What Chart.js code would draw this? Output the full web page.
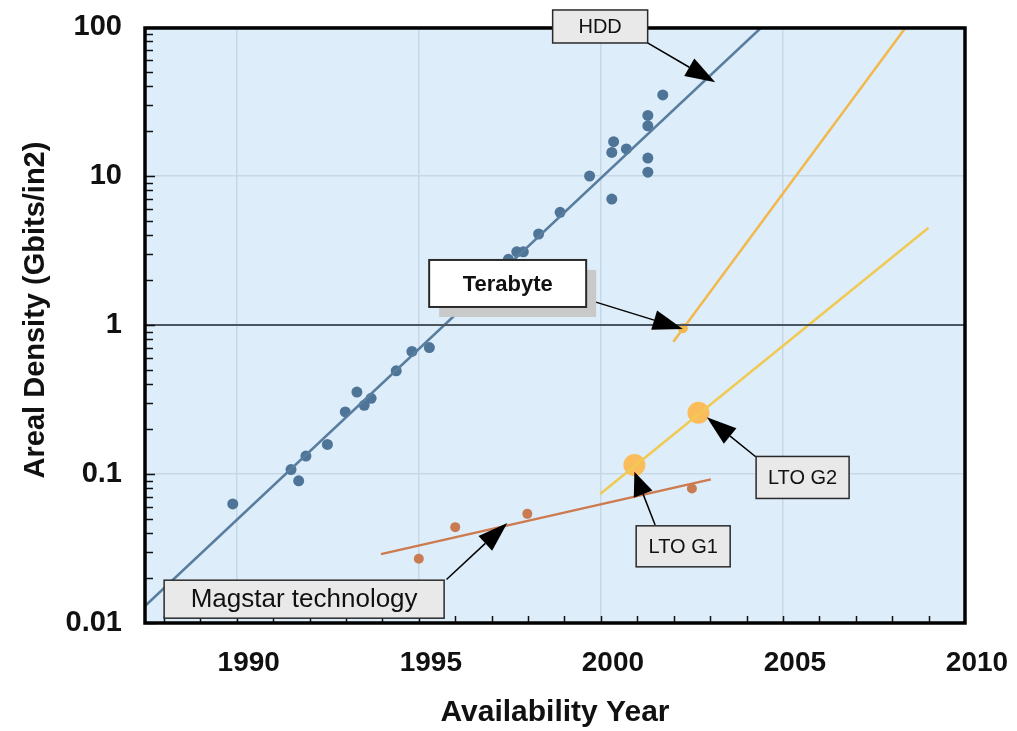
<!DOCTYPE html>
<html>
<head>
<meta charset="utf-8">
<script src="https://cdn.jsdelivr.net/npm/chart.js@4.4.1/dist/chart.umd.min.js"></script>
<style>
html,body{margin:0;padding:0;background:#fff;}
canvas{display:block;}
</style>
</head>
<body>
<canvas id="densityChart" width="1017" height="731"></canvas>
<script>
// axis ranges and tick labels
const xMin = 1987.48, xMax = 2010;
const xTicks = [1990, 1995, 2000, 2005, 2010];
const yTicks = [0.01, 0.1, 1, 10, 100];
const yTickLabels = ['0.01', '0.1', '1', '10', '100'];
const yTitle = 'Areal Density (Gbits/in2)';

// HDD products
const hddYears   = [1989.89,1991.49,1991.70,1991.90,1992.49,1992.98,1993.30,1993.50,1993.69,1994.38,1994.81,1995.29,1997.46,1997.69,1997.87,1998.29,1998.88,1999.69,2000.30,2000.30,2000.35,2000.70,2001.29,2001.29,2001.29,2001.29,2001.70];
const hddDensity = [0.063,0.107,0.090,0.132,0.158,0.261,0.355,0.289,0.322,0.493,0.665,0.705,2.76,3.1,3.1,4.08,5.7,10.0,7.0,14.4,17.0,15.2,13.2,10.6,21.7,25.5,35.0];
const hddTrendYears   = [1987.48, 2004.42];
const hddTrendDensity = [0.013, 100];

// Magstar tape
const magstarYears   = [1995.0, 1996.0, 1997.98, 2002.5];
const magstarDensity = [0.027, 0.044, 0.054, 0.080];
const magstarTrendYears   = [1993.96, 2003.02];
const magstarTrendDensity = [0.029, 0.092];

// LTO roadmap
const ltoYears   = [2000.92, 2002.68];
const ltoDensity = [0.115, 0.258];
const ltoTrendYears   = [1999.98, 2009.0];
const ltoTrendDensity = [0.0735, 4.5];

// terabyte tape line
const tbTrendYears   = [2001.99, 2008.38];
const tbTrendDensity = [0.773, 100];
const tbPointYears   = [2002.25];
const tbPointDensity = [0.95];
const terabyteLevel = 1;

function pts(xs, ys){ return xs.map((x,i)=>({x:x, y:ys[i]})); }

const notes = [
  {text:'HDD', font:'20px "Liberation Sans", Arial', cx:1999.98, cy:100.8, w:95, h:33, fill:'#e9e9e9', tail:[2001.27,78.5], tip:[2003.14,42.5]},
  {text:'Terabyte', font:'bold 22px "Liberation Sans", Arial', cx:1997.44, cy:1.90, w:157, h:47, fill:'#ffffff', shadow:true, tail:[1999.84,1.43], tip:[2002.25,0.94]},
  {text:'Magstar technology', font:'26px "Liberation Sans", Arial', cx:1991.85, cy:0.01445, w:280, h:38, fill:'#e9e9e9', tail:[1995.76,0.0196], tip:[1997.43,0.0469]},
  {text:'LTO G1', font:'20px "Liberation Sans", Arial', cx:2002.26, cy:0.0327, w:94, h:41, fill:'#e9e9e9', tail:[2001.49,0.0455], tip:[2000.92,0.1035], head:24},
  {text:'LTO G2', font:'20px "Liberation Sans", Arial', cx:2005.54, cy:0.0948, w:93, h:42, fill:'#e9e9e9', tail:[2004.26,0.130], tip:[2002.91,0.2405]}
];

const bgPlugin = {
  id:'bg',
  beforeDraw(chart){
    const {ctx, chartArea:a} = chart;
    ctx.save();
    ctx.fillStyle = '#deedfa';
    ctx.fillRect(a.left, a.top, a.right-a.left, a.bottom-a.top);
    ctx.restore();
  }
};

const framePlugin = {
  id:'frame',
  afterDatasetsDraw(chart){
    const {ctx, chartArea:a, scales} = chart;
    const xs = scales.x, ys = scales.y;
    ctx.save();
    ctx.strokeStyle = '#111';
    ctx.lineWidth = 1.5;
    ctx.beginPath();
    // y ticks inside the frame
    for(let d=0.01; d<100; d*=10){
      for(let k=1;k<10;k++){
        const py = Math.round(ys.getPixelForValue(k*d))+0.5;
        const len = k===1 ? 10 : 8;
        ctx.moveTo(a.left, py); ctx.lineTo(a.left+len, py);
      }
    }
    // x ticks every year
    for(let yr=1988; yr<2010; yr++){
      const px = Math.round(xs.getPixelForValue(yr))+0.5;
      ctx.moveTo(px, a.bottom); ctx.lineTo(px, a.bottom-7);
    }
    ctx.stroke();
    ctx.lineWidth = 3.5;
    ctx.strokeStyle = '#000';
    ctx.strokeRect(a.left, a.top+1, a.right-a.left, a.bottom-a.top-1);
    ctx.restore();
  },
  afterDraw(chart){
    const {ctx, scales, chartArea:a} = chart;
    const xs = scales.x, ys = scales.y;
    ctx.save();
    // y axis title
    ctx.save();
    ctx.translate(36, (a.top+a.bottom)/2 - 15);
    ctx.rotate(-Math.PI/2);
    ctx.font = 'bold 29px "Liberation Sans", Arial';
    ctx.fillStyle = '#111';
    ctx.textAlign = 'center'; ctx.textBaseline = 'middle';
    ctx.fillText(yTitle, 0, 0);
    ctx.restore();
    notes.forEach(n=>{
      const tx = xs.getPixelForValue(n.tip[0]), ty = ys.getPixelForValue(n.tip[1]);
      const sx = xs.getPixelForValue(n.tail[0]), sy = ys.getPixelForValue(n.tail[1]);
      const ang = Math.atan2(ty-sy, tx-sx);
      const L = n.head || 30, W = 10;
      const bx = tx - L*Math.cos(ang), by = ty - L*Math.sin(ang);
      ctx.strokeStyle = '#000'; ctx.lineWidth = 1.5;
      ctx.beginPath(); ctx.moveTo(sx, sy); ctx.lineTo(bx, by); ctx.stroke();
      ctx.fillStyle = '#000';
      ctx.beginPath();
      ctx.moveTo(tx, ty);
      ctx.lineTo(bx + W*Math.sin(ang), by - W*Math.cos(ang));
      ctx.lineTo(bx - W*Math.sin(ang), by + W*Math.cos(ang));
      ctx.closePath(); ctx.fill();
    });
    notes.forEach(n=>{
      const cx = xs.getPixelForValue(n.cx), cy = ys.getPixelForValue(n.cy);
      const x0 = cx - n.w/2, y0 = cy - n.h/2;
      if(n.shadow){
        ctx.fillStyle = '#c9c9c9';
        ctx.fillRect(x0+10, y0+10, n.w, n.h);
      }
      ctx.fillStyle = n.fill;
      ctx.fillRect(x0, y0, n.w, n.h);
      ctx.strokeStyle = '#2a2a2a'; ctx.lineWidth = n.shadow ? 2 : 1.5;
      ctx.strokeRect(x0, y0, n.w, n.h);
      ctx.fillStyle = '#111';
      ctx.font = n.font;
      ctx.textAlign = 'center'; ctx.textBaseline = 'middle';
      ctx.fillText(n.text, cx, cy+1);
    });
    ctx.restore();
  }
};

const ctx = document.getElementById('densityChart').getContext('2d');
new Chart(ctx, {
  type:'scatter',
  data:{datasets:[
    {label:'Terabyte', data:pts([xMin,xMax],[terabyteLevel,terabyteLevel]), showLine:true, borderColor:'#4b5660', borderWidth:2, pointRadius:0},
    {label:'HDD trend', data:pts(hddTrendYears,hddTrendDensity), showLine:true, borderColor:'#587d9e', borderWidth:2.5, pointRadius:0},
    {label:'HDD', data:pts(hddYears,hddDensity), backgroundColor:'#4e7597', borderWidth:0, pointRadius:5.5},
    {label:'Magstar trend', data:pts(magstarTrendYears,magstarTrendDensity), showLine:true, borderColor:'#cc7a4e', borderWidth:2.5, pointRadius:0},
    {label:'Magstar', data:pts(magstarYears,magstarDensity), backgroundColor:'#c97c52', borderWidth:0, pointRadius:5},
    {label:'LTO trend', data:pts(ltoTrendYears,ltoTrendDensity), showLine:true, borderColor:'#f0ca52', borderWidth:2.5, pointRadius:0},
    {label:'LTO', data:pts(ltoYears,ltoDensity), backgroundColor:'#fbbd5c', borderWidth:0, pointRadius:11},
    {label:'Terabyte tape', data:pts(tbTrendYears,tbTrendDensity), showLine:true, borderColor:'#f2b84c', borderWidth:2.5, pointRadius:0},
    {label:'Terabyte point', data:pts(tbPointYears,tbPointDensity), backgroundColor:'#f2b84c', borderWidth:0, pointRadius:5}
  ]},
  options:{
    responsive:false, animation:false, devicePixelRatio:1,
    layout:{padding:{top:27, right:52, left:0, bottom:0}},
    plugins:{legend:{display:false}, tooltip:{enabled:false}},
    scales:{
      x:{type:'linear', min:xMin, max:xMax,
        afterBuildTicks: s => { s.ticks = xTicks.map(v=>({value:v})); },
        afterFit: s => { s.height = 108; s.paddingLeft = 0; s.paddingRight = 0; },
        ticks:{autoSkip:false, maxRotation:0, labelOffset:12, padding:23, color:'#111',
          font:{family:'"Liberation Sans", Arial', size:28, weight:'bold'},
          callback: v => String(v)},
        grid:{color:'#c6d7e5', lineWidth:1.5, drawTicks:false},
        border:{display:false},
        title:{display:true, text:'Availability Year', color:'#111', padding:{top:0,bottom:0},
          font:{family:'"Liberation Sans", Arial', size:30, weight:'bold'}}
      },
      y:{type:'logarithmic', min:0.01, max:100,
        afterBuildTicks: s => { s.ticks = yTicks.map(v=>({value:v})); },
        afterFit: s => { s.width = 145; s.paddingTop = 0; s.paddingBottom = 0; },
        ticks:{padding:23, color:'#111',
          font:{family:'"Liberation Sans", Arial', size:29, weight:'bold'},
          callback: (v) => { const i = yTicks.indexOf(v); return i>=0 ? yTickLabels[i] : ''; }},
        grid:{color:'#c6d7e5', lineWidth:1.5, drawTicks:false},
        border:{display:false},
        title:{display:false}
      }
    }
  },
  plugins:[bgPlugin, framePlugin]
});
</script>
</body>
</html>
